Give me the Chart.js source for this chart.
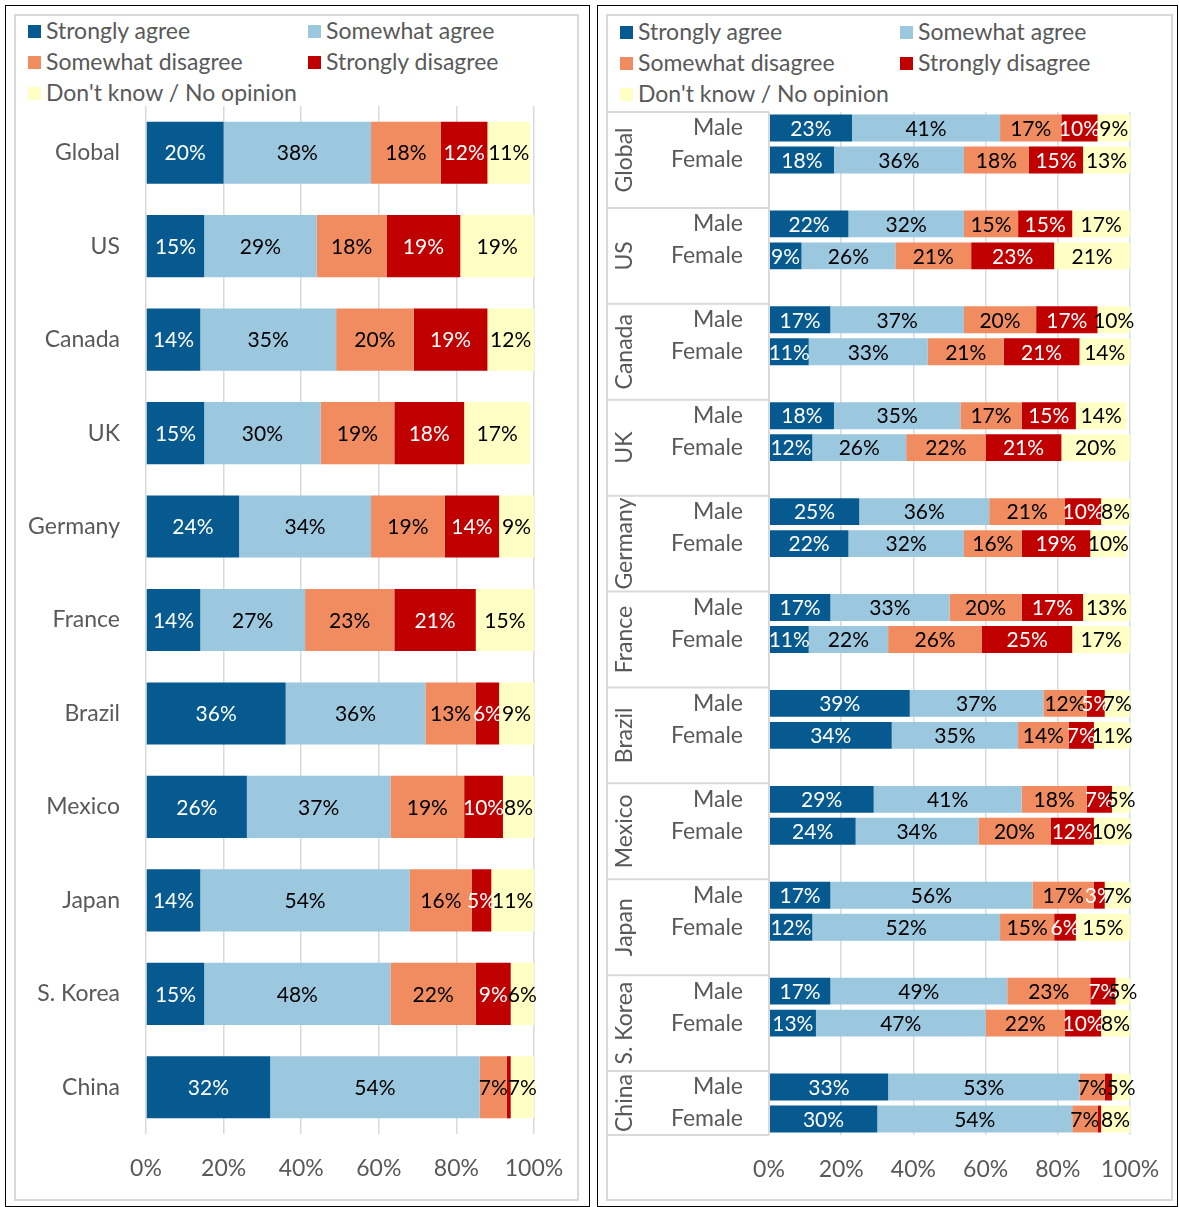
<!DOCTYPE html>
<html>
<head>
<meta charset="utf-8">
<script src="https://cdn.jsdelivr.net/npm/chart.js@4.4.1/dist/chart.umd.min.js"></script>
<style>
  body { margin: 0; background: #fff; font-family: Lato, sans-serif; }
  .frame { position: absolute; border: 1.5px solid #000; box-sizing: border-box; }
  .inner { position: absolute; border: 2px solid #d9d9d9; box-sizing: border-box; }
  canvas { position: absolute; }
  .legend-item { position: absolute; font-size: 23px; color: #595959; line-height: 23px; white-space: nowrap; }
  .legend-item .box { display: inline-block; width: 13px; height: 13px; margin-right: 5px; vertical-align: 1px; }
</style>
</head>
<body>
<div class="frame" style="left:5px;top:5px;width:585px;height:1202px"></div>
<div class="frame" style="left:597px;top:5px;width:581px;height:1202px"></div>
<div class="inner" style="left:14px;top:14px;width:565px;height:1187px"></div>
<div class="inner" style="left:606px;top:14px;width:567px;height:1187px"></div>
<div id="legendLeft"></div>
<div id="legendRight"></div>
<canvas id="countryChart" width="562" height="1184" style="left:15px;top:15px"></canvas>
<canvas id="genderChart" width="564" height="1184" style="left:607px;top:15px"></canvas>

<script>
// series and categories
const seriesNames = ['Strongly agree', 'Somewhat agree', 'Somewhat disagree', 'Strongly disagree', "Don't know / No opinion"];
const seriesColors = ['#065a8f', '#9bc7df', '#f08c60', '#c00000', '#ffffc5'];
const labelColors = ['#ffffff', '#000000', '#000000', '#ffffff', '#000000'];

const countries = ['Global', 'US', 'Canada', 'UK', 'Germany', 'France', 'Brazil', 'Mexico', 'Japan', 'S. Korea', 'China'];
const genders = ['Male', 'Female'];
const tickValues = [0, 20, 40, 60, 80, 100];

// left chart: by country
const stronglyAgree    = [20, 15, 14, 15, 24, 14, 36, 26, 14, 15, 32];
const somewhatAgree    = [38, 29, 35, 30, 34, 27, 36, 37, 54, 48, 54];
const somewhatDisagree = [18, 18, 20, 19, 19, 23, 13, 19, 16, 22, 7];
const stronglyDisagree = [12, 19, 19, 18, 14, 21, 6, 10, 5, 9, 1];
const dontKnow         = [11, 19, 12, 17, 9, 15, 9, 8, 11, 6, 7];

// right chart: by country and gender (male, female per country)
const stronglyAgreeMF    = [23, 18, 22, 9, 17, 11, 18, 12, 25, 22, 17, 11, 39, 34, 29, 24, 17, 12, 17, 13, 33, 30];
const somewhatAgreeMF    = [41, 36, 32, 26, 37, 33, 35, 26, 36, 32, 33, 22, 37, 35, 41, 34, 56, 52, 49, 47, 53, 54];
const somewhatDisagreeMF = [17, 18, 15, 21, 20, 21, 17, 22, 21, 16, 20, 26, 12, 14, 18, 20, 17, 15, 23, 22, 7, 7];
const stronglyDisagreeMF = [10, 15, 15, 23, 17, 21, 15, 21, 10, 19, 17, 25, 5, 7, 7, 12, 3, 6, 7, 10, 2, 1];
const dontKnowMF         = [9, 13, 17, 21, 10, 14, 14, 20, 8, 10, 13, 17, 7, 11, 5, 10, 7, 15, 5, 8, 5, 8];

Chart.defaults.font.family = 'Lato, sans-serif';

// legends
function buildLegend(id, left, top, colGap) {
    const el = document.getElementById(id);
    seriesNames.forEach((name, i) => {
        const item = document.createElement('div');
        item.className = 'legend-item';
        item.style.left = (left + (i % 2) * colGap) + 'px';
        item.style.top = (top + Math.floor(i / 2) * 31) + 'px';
        item.innerHTML = '<span class="box" style="background:' + seriesColors[i] + '"></span>' + name;
        el.appendChild(item);
    });
}
buildLegend('legendLeft', 28, 19, 280);
buildLegend('legendRight', 620, 20, 280);

// value labels centred on each segment
const barLabels = {
    id: 'barLabels',
    afterDatasetsDraw(chart) {
        const ctx = chart.ctx;
        const area = chart.chartArea;
        ctx.save();
        ctx.font = '21px Lato, sans-serif';
        ctx.textAlign = 'center';
        ctx.textBaseline = 'middle';
        chart.data.datasets.forEach((ds, i) => {
            chart.getDatasetMeta(i).data.forEach((bar, j) => {
                const v = ds.data[j];
                if (v == null || v < 3) return;
                const p = bar.getProps(['x', 'y', 'base'], true);
                const x = Math.min(p.x, area.right);
                ctx.fillStyle = labelColors[i];
                ctx.fillText(v + '%', (x + p.base) / 2, p.y + 1);
            });
        });
        ctx.restore();
    }
};

function makeDatasets(seriesList) {
    return seriesList.map((data, i) => ({
        label: seriesNames[i],
        data: data,
        backgroundColor: seriesColors[i],
        borderWidth: 0
    }));
}

function xScale(height, pad) {
    return {
        stacked: true,
        min: 0,
        max: 100,
        afterBuildTicks: s => { s.ticks = tickValues.map(v => ({ value: v })); },
        ticks: { callback: v => v + '%', color: '#595959', font: { size: 23 }, padding: pad, maxRotation: 0 },
        grid: { color: '#d9d9d9', lineWidth: 1.5, drawTicks: false },
        border: { display: false },
        afterFit: s => {
            s.height = height;
            s.paddingLeft = 0;
            s.paddingRight = 0;
        }
    };
}

// left chart
new Chart(document.getElementById('countryChart'), {
    type: 'bar',
    data: {
        labels: countries,
        datasets: makeDatasets([stronglyAgree, somewhatAgree, somewhatDisagree, stronglyDisagree, dontKnow])
    },
    options: {
        indexAxis: 'y',
        responsive: false,
        animation: false,
        layout: { padding: { top: 91, right: 43, left: 0, bottom: 0 } },
        datasets: { bar: { barPercentage: 0.665, categoryPercentage: 1 } },
        plugins: { legend: { display: false }, tooltip: { enabled: false } },
        scales: {
            x: xScale(65, 21),
            y: {
                stacked: true,
                ticks: { color: '#595959', font: { size: 23 }, padding: 18 },
                grid: { display: false },
                border: { display: false },
                afterFit: s => { s.width = 131; }
            }
        }
    },
    plugins: [barLabels]
});

// right chart: rows Male / Female / gap per country
function toRows(series) {
    const out = [];
    countries.forEach((c, k) => {
        out.push(series[2 * k], series[2 * k + 1]);
        if (k < countries.length - 1) out.push(null);
    });
    return out;
}
const rowLabels = [];
countries.forEach((c, k) => {
    rowLabels.push(genders[0], genders[1]);
    if (k < countries.length - 1) rowLabels.push('');
});

const groupLabels = {
    id: 'groupLabels',
    afterDraw(chart) {
        const ctx = chart.ctx;
        const y = chart.scales.y;
        const area = chart.chartArea;
        const step = y.getPixelForValue(1) - y.getPixelForValue(0);
        ctx.save();
        ctx.strokeStyle = '#d9d9d9';
        ctx.lineWidth = 2;
        ctx.beginPath();
        ctx.moveTo(area.left, area.top);
        ctx.lineTo(area.left, area.bottom);
        countries.forEach((c, k) => {
            const top = y.getPixelForValue(3 * k) - step / 2;
            ctx.moveTo(0, top);
            ctx.lineTo(area.left, top);
        });
        ctx.moveTo(0, area.bottom);
        ctx.lineTo(area.left, area.bottom);
        ctx.stroke();

        ctx.font = '23px Lato, sans-serif';
        ctx.fillStyle = '#595959';
        ctx.textAlign = 'center';
        ctx.textBaseline = 'middle';
        countries.forEach((c, k) => {
            const top = y.getPixelForValue(3 * k) - step / 2;
            const bottom = k < countries.length - 1 ? y.getPixelForValue(3 * k + 2) + step / 2 : area.bottom;
            ctx.save();
            ctx.translate(18, (top + bottom) / 2);
            ctx.rotate(-Math.PI / 2);
            ctx.fillText(c, 0, 0);
            ctx.restore();
        });
        ctx.restore();
    }
};

new Chart(document.getElementById('genderChart'), {
    type: 'bar',
    data: {
        labels: rowLabels,
        datasets: makeDatasets([stronglyAgreeMF, somewhatAgreeMF, somewhatDisagreeMF, stronglyDisagreeMF, dontKnowMF].map(toRows))
    },
    options: {
        indexAxis: 'y',
        responsive: false,
        animation: false,
        layout: { padding: { top: 97, right: 41, left: 0, bottom: 0 } },
        datasets: { bar: { barPercentage: 0.84, categoryPercentage: 1 } },
        plugins: { legend: { display: false }, tooltip: { enabled: false } },
        scales: {
            x: xScale(64, 21),
            y: {
                stacked: true,
                ticks: { color: '#595959', font: { size: 23 }, padding: 18, autoSkip: false },
                grid: { display: false },
                border: { display: false },
                afterFit: s => { s.width = 162; }
            }
        }
    },
    plugins: [barLabels, groupLabels]
});
</script>
</body>
</html>
